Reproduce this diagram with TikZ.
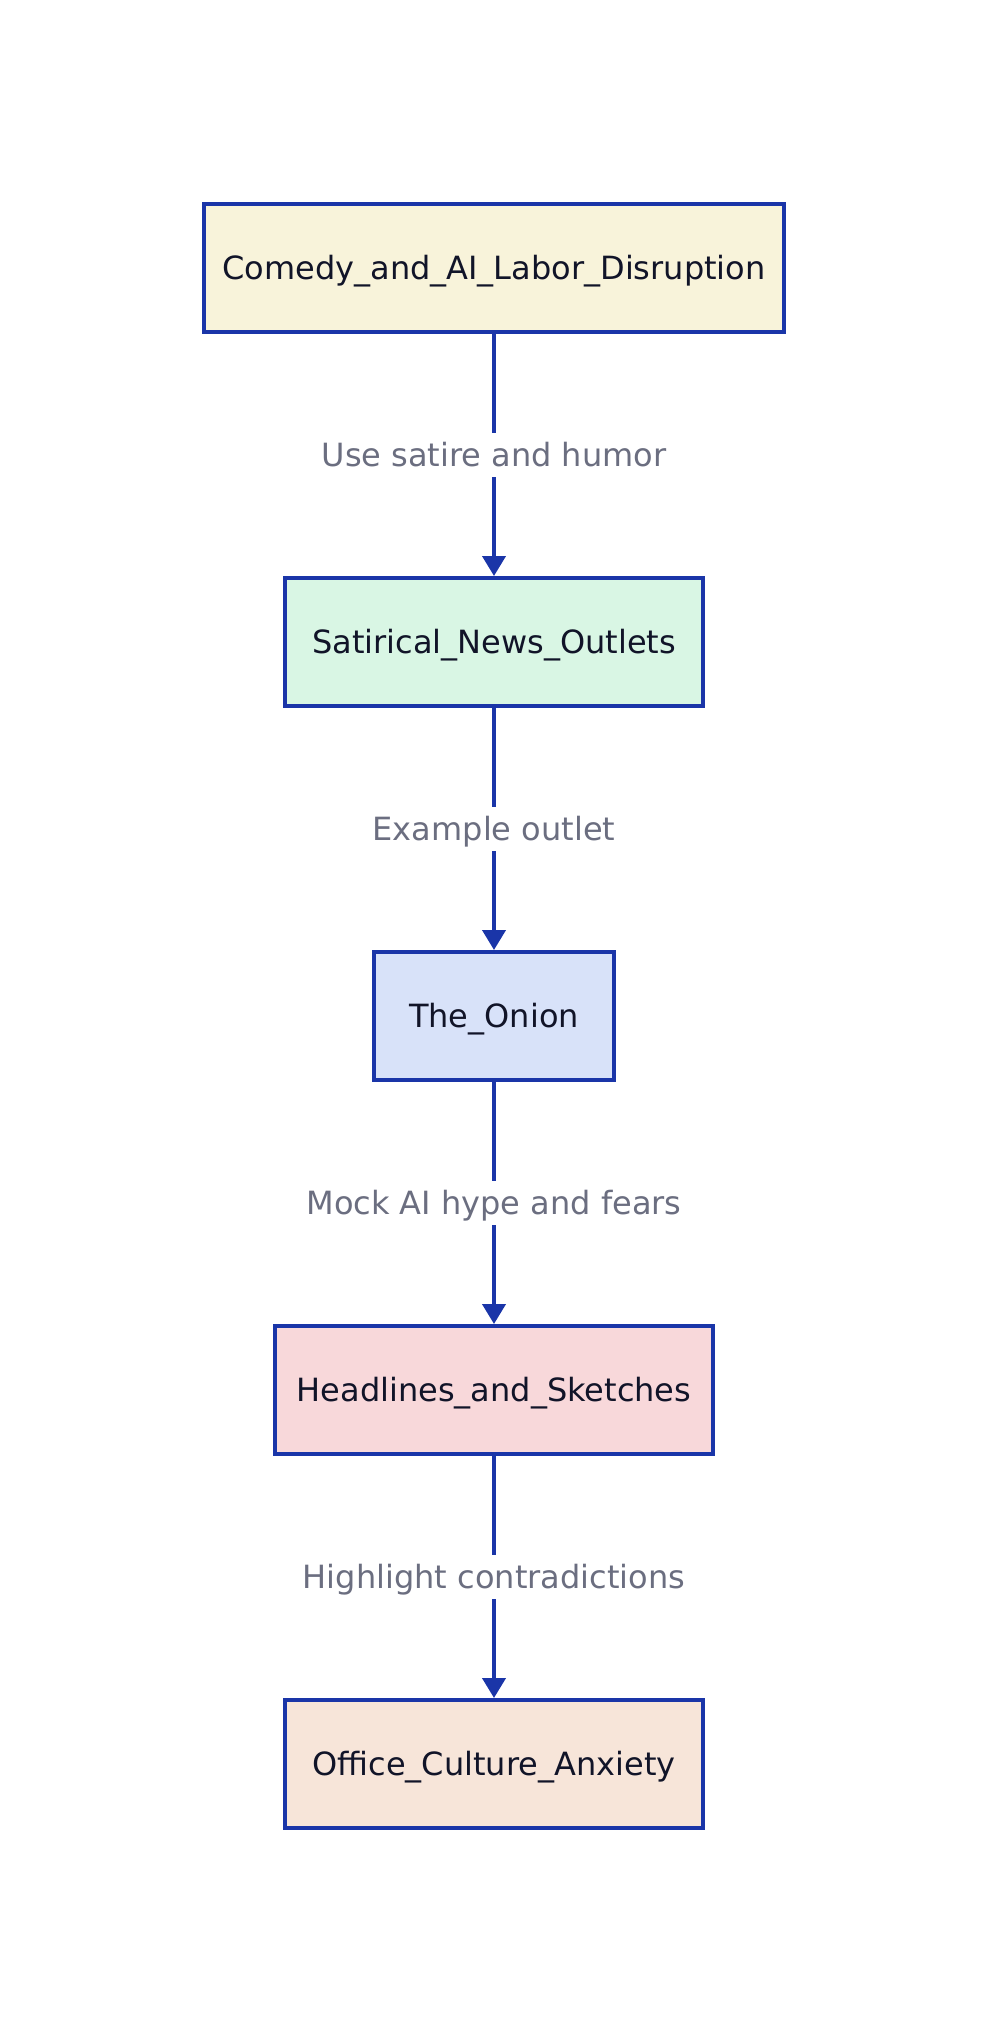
\documentclass[tikz,border=0pt]{standalone}
\usepackage{fontspec}
\setmainfont{DejaVu Sans}
\usetikzlibrary{arrows.meta}
\definecolor{edgeblue}{HTML}{1A35A8}
\definecolor{nodetext}{HTML}{111428}
\definecolor{lbltext}{HTML}{6B6E80}
\definecolor{fillA}{HTML}{F8F3DA}
\definecolor{fillB}{HTML}{D9F6E4}
\definecolor{fillC}{HTML}{D8E2F9}
\definecolor{fillD}{HTML}{F8D8DA}
\definecolor{fillE}{HTML}{F7E5D9}
\tikzset{
  box/.style={draw=edgeblue, line width=2pt, inner sep=0pt, minimum height=64pt,
    text=nodetext, font=\fontsize{16pt}{19pt}\selectfont,
    text height=15pt, text depth=3.3pt, align=center},
  lbl/.style={fill=white, inner xsep=2pt, inner ysep=0pt, minimum height=22pt,
    text=lbltext, font=\fontsize{16pt}{19pt}\selectfont,
    text height=15pt, text depth=3.3pt},
  edge/.style={draw=edgeblue, line width=2pt,
    -{Triangle[length=10pt, width=11.5pt]}}
}
\begin{document}
\begin{tikzpicture}[x=0.5pt, y=-0.5pt]
\useasboundingbox (0,0) rectangle (988,2032);
\node[box, fill=fillA, minimum width=290pt] (n1) at (494,268) {Comedy\_and\_AI\_Labor\_Disruption};
\node[box, fill=fillB, minimum width=209pt] (n2) at (494,642) {Satirical\_News\_Outlets};
\node[box, fill=fillC, minimum width=120pt] (n3) at (494,1016) {The\_Onion};
\node[box, fill=fillD, minimum width=219pt] (n4) at (494,1390) {Headlines\_and\_Sketches};
\node[box, fill=fillE, minimum width=209pt] (n5) at (494,1764) {Office\_Culture\_Anxiety};
\draw[edge] (n1) -- node[lbl] (l1) {Use satire and humor} (n2);
\draw[edge] (n2) -- node[lbl] (l2) {Example outlet} (n3);
\draw[edge] (n3) -- node[lbl] (l3) {Mock AI hype and fears} (n4);
\draw[edge] (n4) -- node[lbl] (l4) {Highlight contradictions} (n5);
\end{tikzpicture}
\end{document}
